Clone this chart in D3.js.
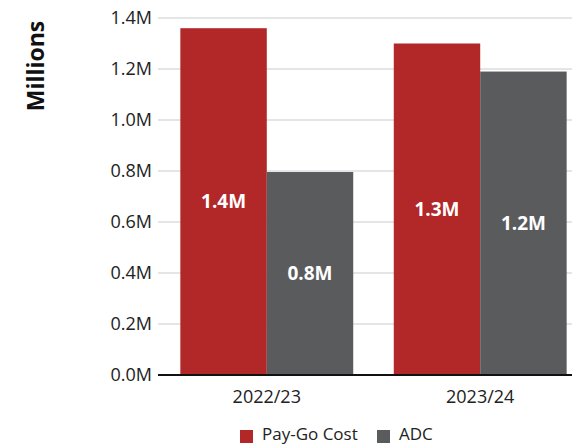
<!DOCTYPE html>
<html>
<head>
<meta charset="utf-8">
<script src="https://cdn.jsdelivr.net/npm/d3@7"></script>
<style>
  body { margin: 0; background: #fff; }
  text { font-family: "Open Sans", "Noto Sans", sans-serif; }
</style>
</head>
<body>
<div id="chart"></div>
<script>
// data (millions)
var years = ["2022/23", "2023/24"];
var seriesNames = ["Pay-Go Cost", "ADC"];
var payGo = [1.36, 1.30];
var adc = [0.796, 1.19];
var yTicks = [0, 0.2, 0.4, 0.6, 0.8, 1.0, 1.2, 1.4];

var width = 572;
var height = 445;
var colors = ["#b22728", "#5a5b5d"];

var svg = d3.select("#chart").append("svg")
    .attr("width", width)
    .attr("height", height);

var y = d3.scaleLinear().domain([0, 1.4]).range([375, 18]);

var x0 = d3.scaleBand()
    .domain(years)
    .range([159, 588])
    .paddingInner(0.19)
    .paddingOuter(0.1);

var x1 = d3.scaleBand()
    .domain(seriesNames)
    .range([0, x0.bandwidth()]);

// gridlines
svg.append("g")
    .selectAll("line")
    .data(yTicks.filter(d => d > 0))
    .enter().append("line")
    .attr("x1", 158)
    .attr("x2", width)
    .attr("y1", d => y(d))
    .attr("y2", d => y(d))
    .attr("stroke", "#dcdcdc")
    .attr("stroke-width", 1.5);

// y tick labels
svg.append("g")
    .selectAll("text")
    .data(yTicks)
    .enter().append("text")
    .attr("x", 152)
    .attr("y", d => y(d))
    .attr("dy", "0.35em")
    .attr("text-anchor", "end")
    .style("font-size", "18px")
    .style("fill", "#222")
    .text(d => d.toFixed(1) + "M");

svg.append("text")
    .attr("transform", "translate(36,66) rotate(-90)")
    .attr("text-anchor", "middle")
    .attr("dy", "0.35em")
    .style("font-size", "23px")
    .style("font-weight", "bold")
    .style("fill", "#111")
    .text("Millions");

var rows = years.map(function (yr, i) {
    return { year: yr, values: [payGo[i], adc[i]] };
});

var groups = svg.selectAll(".grp")
    .data(rows)
    .enter().append("g")
    .attr("class", "grp")
    .attr("transform", d => "translate(" + x0(d.year) + ",0)");

groups.selectAll("rect")
    .data(d => d.values.map((v, j) => ({ key: seriesNames[j], v: v, j: j })))
    .enter().append("rect")
    .attr("x", d => x1(d.key))
    .attr("width", x1.bandwidth())
    .attr("y", d => y(d.v))
    .attr("height", d => y(0) - y(d.v))
    .attr("fill", d => colors[d.j]);

groups.selectAll(".lbl")
    .data(d => d.values.map((v, j) => ({ key: seriesNames[j], v: v })))
    .enter().append("text")
    .attr("class", "lbl")
    .attr("x", d => x1(d.key) + x1.bandwidth() / 2)
    .attr("y", d => (y(d.v) + y(0)) / 2)
    .attr("dy", "0.35em")
    .attr("text-anchor", "middle")
    .style("font-size", "19px")
    .style("font-weight", "bold")
    .style("fill", "#fff")
    .text(d => d.v.toFixed(1) + "M");

// baseline
svg.append("line")
    .attr("x1", 158)
    .attr("x2", width)
    .attr("y1", y(0))
    .attr("y2", y(0))
    .attr("stroke", "#111")
    .attr("stroke-width", 2);

// category labels
svg.append("g")
    .selectAll("text")
    .data(years)
    .enter().append("text")
    .attr("x", d => x0(d) + x0.bandwidth() / 2)
    .attr("y", 397)
    .attr("dy", "0.35em")
    .attr("text-anchor", "middle")
    .style("font-size", "18px")
    .style("fill", "#222")
    .text(d => d);

// legend
var legendPos = [240, 377];
var legend = svg.append("g");
legend.selectAll("rect")
    .data(seriesNames)
    .enter().append("rect")
    .attr("x", (d, i) => legendPos[i])
    .attr("y", 430)
    .attr("width", 13)
    .attr("height", 13)
    .attr("fill", (d, i) => colors[i]);
legend.selectAll("text")
    .data(seriesNames)
    .enter().append("text")
    .attr("x", (d, i) => legendPos[i] + 22)
    .attr("y", 434)
    .attr("dy", "0.35em")
    .style("font-size", "17px")
    .style("fill", "#222")
    .text(d => d);
</script>
</body>
</html>
